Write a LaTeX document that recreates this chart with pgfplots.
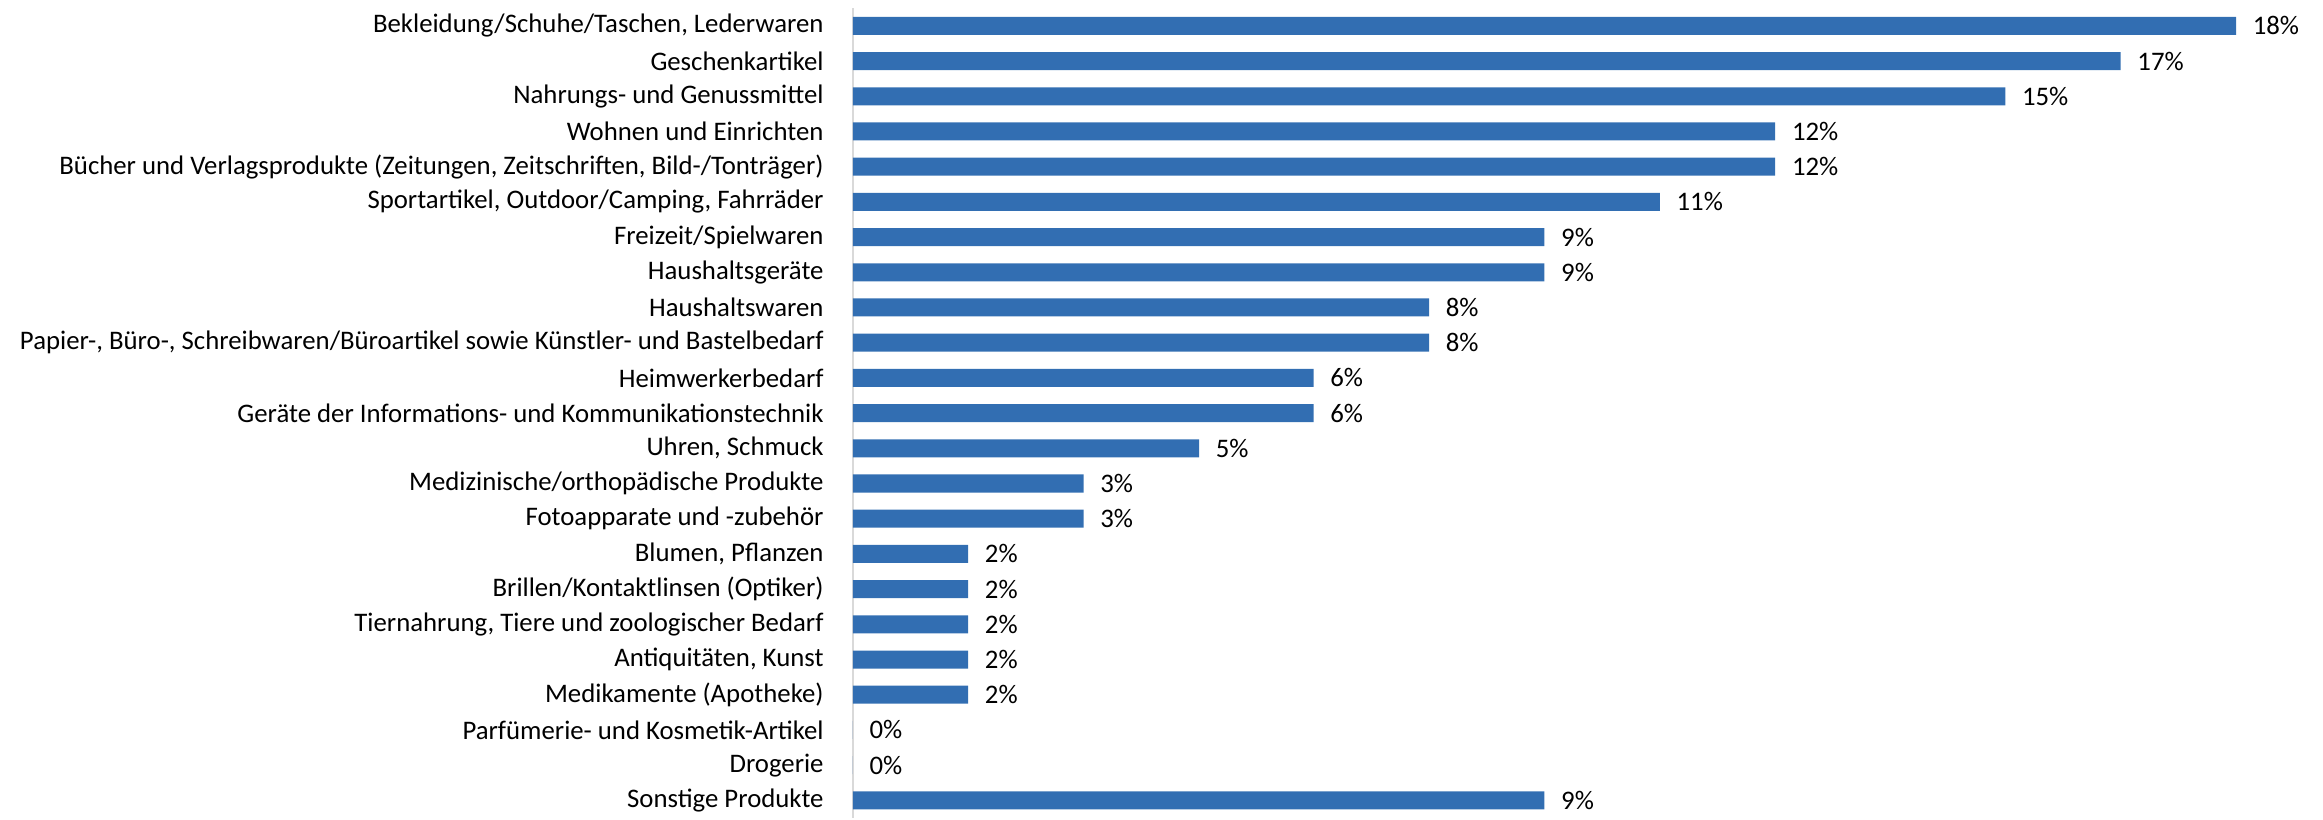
\documentclass[border=0pt]{standalone}
\usepackage{pgfplots}
\pgfplotsset{compat=1.18}
\usepackage{fontspec}
\setmainfont{Carlito}
\definecolor{barblue}{RGB}{50,110,178}
\definecolor{axgray}{RGB}{217,217,217}
\begin{document}
\begin{tikzpicture}
\begin{axis}[
    xbar,
    scale only axis,
    width=587.6pt, height=323.6pt,
    xmin=0, xmax=19.62,
    ymin=-0.5, ymax=22.5,
    y dir=reverse,
    bar width=7.2pt,
    axis x line=none,
    axis y line*=left,
    y axis line style={draw=axgray, line width=1pt},
    ytick={0,...,22},
    major tick length=0pt,
    yticklabels={
        {Bekleidung/Schuhe/Taschen, Lederwaren},
        {Geschenkartikel},
        {Nahrungs- und Genussmittel},
        {Wohnen und Einrichten},
        {Bücher und Verlagsprodukte (Zeitungen, Zeitschriften, Bild-/Tonträger)},
        {Sportartikel, Outdoor/Camping, Fahrräder},
        {Freizeit/Spielwaren},
        {Haushaltsgeräte},
        {Haushaltswaren},
        {Papier-, Büro-, Schreibwaren/Büroartikel sowie Künstler- und Bastelbedarf},
        {Heimwerkerbedarf},
        {Geräte der Informations- und Kommunikationstechnik},
        {Uhren, Schmuck},
        {Medizinische/orthopädische Produkte},
        {Fotoapparate und -zubehör},
        {Blumen, Pflanzen},
        {Brillen/Kontaktlinsen (Optiker)},
        {Tiernahrung, Tiere und zoologischer Bedarf},
        {Antiquitäten, Kunst},
        {Medikamente (Apotheke)},
        {Parfümerie- und Kosmetik-Artikel},
        {Drogerie},
        {Sonstige Produkte}},
    yticklabel style={font=\fontsize{10.7}{12}\selectfont, anchor=east, inner sep=0pt, xshift=-11.5pt},
    /pgf/number format/assume math mode=true,
    nodes near coords={\pgfmathprintnumber[fixed,precision=0]{\pgfplotspointmeta}\%},
    nodes near coords style={font=\fontsize{10.7}{12}\selectfont, anchor=west, inner sep=0pt, xshift=6.5pt},
]
\addplot[fill=barblue, draw=none] coordinates {
    (18.46,0) (16.92,1) (15.38,2) (12.31,3) (12.31,4) (10.77,5)
    (9.23,6) (9.23,7) (7.69,8) (7.69,9) (6.15,10) (6.15,11)
    (4.62,12) (3.08,13) (3.08,14) (1.54,15) (1.54,16) (1.54,17)
    (1.54,18) (1.54,19) (0,20) (0,21) (9.23,22)
};
% keep the whole axis box inside the picture
\path (rel axis cs:0,0) (rel axis cs:1,1);
\end{axis}
\path (current bounding box.south west) ++(-8pt,0) (current bounding box.north west) ++(0,2.8pt);
\end{tikzpicture}
\end{document}
